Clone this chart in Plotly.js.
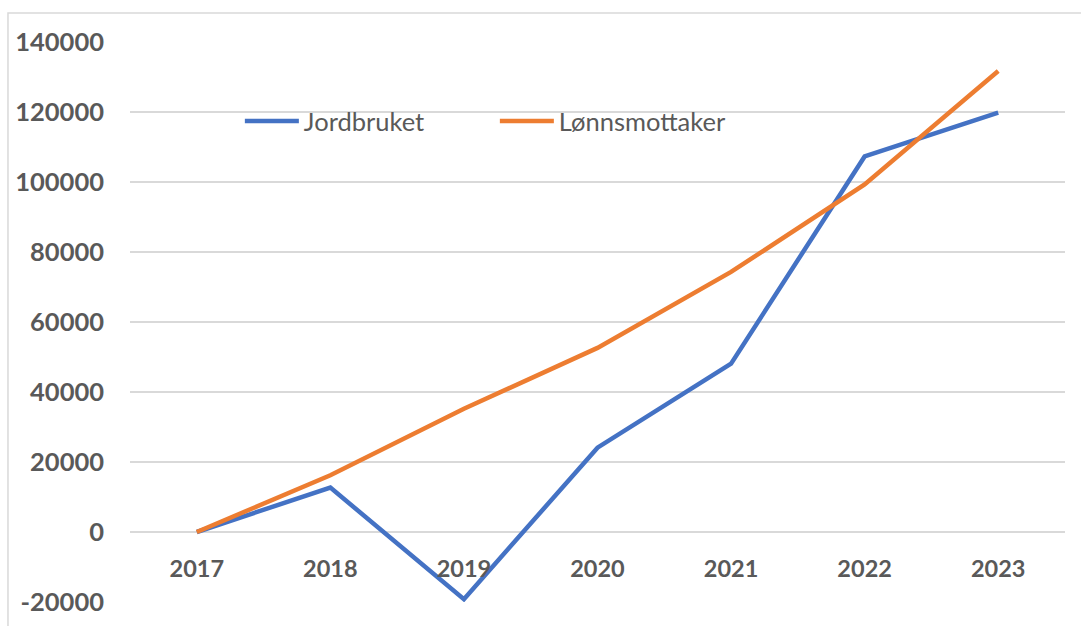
<!DOCTYPE html>
<html>
<head>
<meta charset="utf-8">
<script src="https://cdn.plot.ly/plotly-3.0.1.min.js"></script>
<style>html,body{margin:0;padding:0;background:#fff}#chart{width:1081px;height:626px}</style>
</head>
<body>
<div id="chart"></div>
<script>
const years = ['2017', '2018', '2019', '2020', '2021', '2022', '2023'];
const jordbruket = [0, 12700, -19200, 24100, 48100, 107300, 119800];
const lonnsmottaker = [0, 16200, 35200, 52600, 74300, 99300, 131700];
const seriesNames = ['Jordbruket', 'Lønnsmottaker'];
const yTicks = [-20000, 0, 20000, 40000, 60000, 80000, 100000, 120000, 140000];

const grey = '#595959';
const traces = [
  {x: years, y: jordbruket, name: seriesNames[0], type: 'scatter', mode: 'lines',
   line: {color: '#4472C4', width: 4.5}},
  {x: years, y: lonnsmottaker, name: seriesNames[1], type: 'scatter', mode: 'lines',
   line: {color: '#ED7D31', width: 4.5}}
];

const layout = {
  width: 1081, height: 626,
  margin: {l: 130, r: 16, t: 42, b: 24},
  paper_bgcolor: '#ffffff', plot_bgcolor: '#ffffff',
  font: {family: 'Lato, "Open Sans", sans-serif', color: grey},
  showlegend: true,
  legend: {
    orientation: 'h', x: 0.1175, y: 0.858, xanchor: 'left', yanchor: 'middle',
    font: {size: 25.5, color: grey, family: 'Lato, sans-serif'},
    itemwidth: 54, entrywidth: 186, entrywidthmode: 'pixels',
    bgcolor: 'rgba(0,0,0,0)'
  },
  xaxis: {
    type: 'category', range: [-0.5, 6.5],
    anchor: 'free', position: 0.125,
    showgrid: false, zeroline: false, showline: false, ticks: '',
    ticklabelstandoff: 20,
    tickfont: {size: 23.5, color: grey, family: 'Lato, sans-serif', weight: 'bold'}
  },
  yaxis: {
    range: [-20000, 140000], tickvals: yTicks, ticktext: yTicks.map(String),
    showgrid: true, gridcolor: '#d9d9d9', gridwidth: 1.5,
    zeroline: false, showline: false, ticks: '',
    ticklabelstandoff: 25,
    tickfont: {size: 25.5, color: grey, family: 'Lato, sans-serif', weight: 'bold'}
  },
  shapes: [
    {type: 'rect', xref: 'paper', yref: 'paper', x0: -0.1305, x1: 1.2, y0: -0.2, y1: 1.0518,
     line: {color: '#d9d9d9', width: 1.5}, fillcolor: 'rgba(0,0,0,0)', layer: 'below'}
  ]
};

Plotly.newPlot('chart', traces, layout, {displayModeBar: false, staticPlot: true});
</script>
</body>
</html>
